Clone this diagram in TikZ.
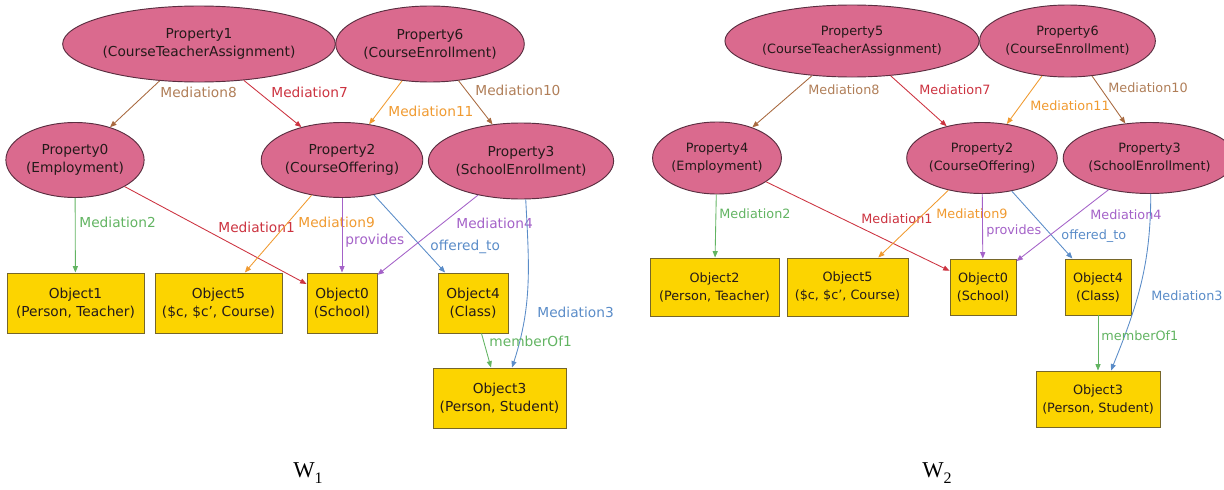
\documentclass[tikz,border=0pt]{standalone}
\usepackage{fontspec}
\setmainfont{DejaVu Sans}
\newfontfamily\wfont{Liberation Serif}
\usetikzlibrary{arrows.meta,shapes.geometric}
\definecolor{pinkfill}{HTML}{DA6A8E}
\definecolor{propline}{HTML}{5A2E40}
\definecolor{objfill}{HTML}{FCD400}
\definecolor{objline}{HTML}{76662A}
\definecolor{nodetext}{HTML}{241A1A}
\definecolor{brownc}{HTML}{A8693F}
\definecolor{brownl}{HTML}{B07E58}
\definecolor{redc}{HTML}{CC3340}
\definecolor{orangec}{HTML}{F09A30}
\definecolor{greenc}{HTML}{62B462}
\definecolor{purplec}{HTML}{A462C8}
\definecolor{bluec}{HTML}{5A8CC8}
\begin{document}
\begin{tikzpicture}[x=0.75pt,y=-0.75pt,
  prop/.style 2 args={ellipse, draw=propline, fill=pinkfill, line width=0.7pt,
    inner sep=0pt, minimum width=#1*0.75pt, minimum height=#2*0.75pt,
    align=center, text=nodetext},
  obj/.style 2 args={rectangle, draw=objline, fill=objfill, line width=0.7pt,
    inner sep=0pt, minimum width=#1*0.75pt, minimum height=#2*0.75pt,
    align=center, text=nodetext},
  fa/.style={font=\fontsize{10.3}{13.5}\selectfont},
  fb/.style={font=\fontsize{9.6}{13.5}\selectfont},
  lbl/.style={inner sep=0pt, anchor=west, text height=1.5ex, text depth=0.25ex},
  conn/.style={line width=0.65pt, -{Triangle[length=4.8pt,width=3.8pt]}},
  wlbl/.style={inner sep=0pt, anchor=base west, font=\wfont\fontsize{17}{20}\selectfont},
]
\useasboundingbox (0,0) rectangle (1224,489);

% ---------- W1 ----------
\node[prop={222}{76}, fa] (p1) at (199,44) {Property1\\(CourseTeacherAssignment)};
\node[prop={160}{76}, fa] (p6) at (430,44) {Property6\\(CourseEnrollment)};
\node[prop={124}{75}, fa] (p0) at (75,160) {Property0\\(Employment)};
\node[prop={142}{75}, fa] (p2) at (342,160) {Property2\\(CourseOffering)};
\node[prop={153}{76}, fa] (p3) at (521,161) {Property3\\(SchoolEnrollment)};
\node[obj={137}{60}, fa] (o1) at (75.5,303) {Object1\\(Person, Teacher)};
\node[obj={127}{60}, fa] (o5) at (218.5,303) {Object5\\(\$c, \$c', Course)};
\node[obj={70}{60}, fa] (o0) at (342,303) {Object0\\(School)};
\node[obj={70}{60}, fa] (o4) at (473,303) {Object4\\(Class)};
\node[obj={133}{60}, fa] (o3) at (499.5,398) {Object3\\(Person, Student)};

\draw[conn, brownc] (p1) -- (p0) node[lbl, fa, text=brownl] at (160,93) {Mediation8};
\draw[conn, redc] (p1) -- (p2) node[lbl, fa, text=redc] at (271,93) {Mediation7};
\draw[conn, orangec] (p6) -- (p2) node[lbl, fa, text=orangec] at (388,112) {Mediation11};
\draw[conn, brownc] (p6) -- (p3) node[lbl, fa, text=brownl] at (475,91) {Mediation10};
\draw[conn, greenc] (p0) -- (o1) node[lbl, fa, text=greenc] at (79,223) {Mediation2};
\draw[conn, redc] (p0) -- (o0) node[lbl, fa, text=redc] at (218,228) {Mediation1};
\draw[conn, orangec] (p2) -- (o5) node[lbl, fa, text=orangec] at (298,223) {Mediation9};
\draw[conn, purplec] (p2) -- (o0) node[lbl, fa, text=purplec] at (345,240) {provides};
\draw[conn, bluec] (p2) -- (o4) node[lbl, fa, text=bluec] at (430,246) {offered\_to};
\draw[conn, purplec] (p3) -- (o0) node[lbl, fa, text=purplec] at (456,224) {Mediation4};
\draw[conn, bluec] (p3.-83) to[out=-87,in=72] ([xshift=9.4pt]o3.north)
  node[lbl, fa, text=bluec] at (537,313) {Mediation3};
\draw[conn, greenc] (o4) -- (o3) node[lbl, fa, text=greenc] at (489,342) {memberOf1};

\node[wlbl] (w1) at (293,477) {W\raisebox{-4.5pt}{\fontsize{12}{12}\selectfont 1}};

% ---------- W2 ----------
\node[prop={210}{72}, fb] (q5) at (852,41) {Property5\\(CourseTeacherAssignment)};
\node[prop={153}{72}, fb] (q6) at (1067.5,41) {Property6\\(CourseEnrollment)};
\node[prop={118}{72}, fb] (q4) at (717,158) {Property4\\(Employment)};
\node[prop={137}{71}, fb] (q2) at (982,158) {Property2\\(CourseOffering)};
\node[prop={145}{71}, fb] (q3) at (1149.5,158) {Property3\\(SchoolEnrollment)};
\node[obj={129}{58}, fb] (r2) at (714.5,287) {Object2\\(Person, Teacher)};
\node[obj={121}{58}, fb] (r5) at (847.5,287) {Object5\\(\$c, \$c', Course)};
\node[obj={66}{56}, fb] (r0) at (983,287) {Object0\\(School)};
\node[obj={66}{56}, fb] (r4) at (1098,287) {Object4\\(Class)};
\node[obj={124}{56}, fb] (r3) at (1098,399) {Object3\\(Person, Student)};

\draw[conn, brownc] (q5) -- (q4) node[lbl, fb, text=brownl] at (808,90) {Mediation8};
\draw[conn, redc] (q5) -- (q2) node[lbl, fb, text=redc] at (919,90) {Mediation7};
\draw[conn, orangec] (q6) -- (q2) node[lbl, fb, text=orangec] at (1030,106) {Mediation11};
\draw[conn, brownc] (q6) -- (q3) node[lbl, fb, text=brownl] at (1108,88) {Mediation10};
\draw[conn, greenc] (q4) -- (r2) node[lbl, fb, text=greenc] at (719,214) {Mediation2};
\draw[conn, redc] (q4) -- (r0) node[lbl, fb, text=redc] at (861,219) {Mediation1};
\draw[conn, orangec] (q2) -- (r5) node[lbl, fb, text=orangec] at (936,214) {Mediation9};
\draw[conn, purplec] (q2) -- (r0) node[lbl, fb, text=purplec] at (986,230) {provides};
\draw[conn, bluec] (q2) -- (r4) node[lbl, fb, text=bluec] at (1061,235) {offered\_to};
\draw[conn, purplec] (q3) -- (r0) node[lbl, fb, text=purplec] at (1090,215) {Mediation4};
\draw[conn, bluec] (q3.-88) to[out=-90,in=68] ([xshift=9.75pt]r3.north)
  node[lbl, fb, text=bluec] at (1151,296) {Mediation3};
\draw[conn, greenc] (r4) -- (r3) node[lbl, fb, text=greenc] at (1101,336) {memberOf1};

\node[wlbl] (w2) at (922,477) {W\raisebox{-4.5pt}{\fontsize{12}{12}\selectfont 2}};
\end{tikzpicture}
\end{document}
